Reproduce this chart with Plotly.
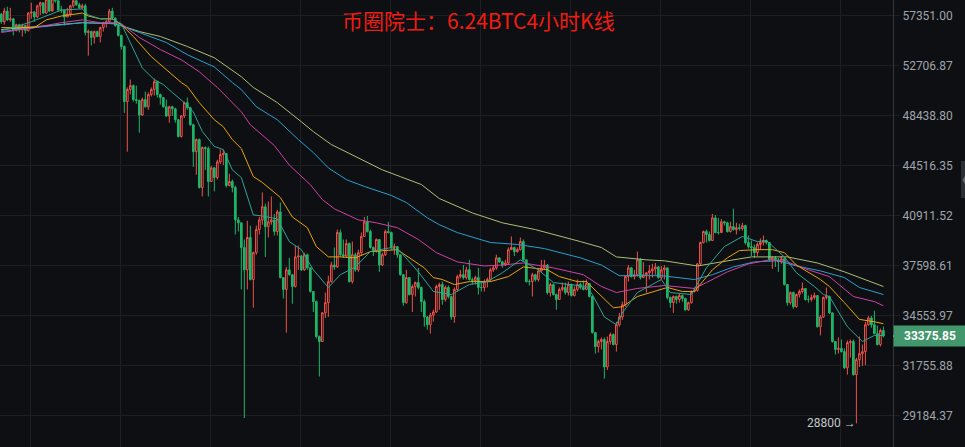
import math

import plotly.graph_objects as go

# BTC 4h candles (log price axis)
first_open = 57490

closes = [
    56750, 57780, 56930, 57030, 56010, 56470, 56010, 56380, 55910, 57590,
    57680, 57210, 58300, 58600, 57590, 58900, 57780, 59000, 58800, 57880,
    57880, 57210, 57490, 58300, 58800, 58400, 58100, 58300, 55730, 55820,
    55270, 55820, 55360, 56190, 56660, 56750, 57780, 57120, 56380, 55450,
    54430, 49590, 50610, 50950, 49760, 49680, 48480, 49760, 49160, 50190,
    50610, 51300, 50190, 49930, 49160, 48400, 49160, 48990, 48090, 46750,
    48400, 49500, 49080, 47690, 45570, 46510, 42890, 45890, 45810, 43330,
    44340, 43620, 44790, 45340, 45420, 43040, 43330, 42890, 40610, 40410,
    38760, 37325, 39420, 36720, 38425, 39950, 40610, 41520, 40150, 40480,
    40610, 39820, 41160, 36840, 36110, 37325, 37020, 36290, 38150, 38210,
    37325, 38290, 37450, 35985, 35375, 33350, 33070, 34710, 35315, 36590,
    37630, 37510, 39750, 38290, 38210, 39020, 36590, 38290, 37325, 38425,
    39490, 40480, 39820, 38760, 38490, 39290, 37630, 38290, 39820, 39750,
    38760, 38820, 38290, 37020, 35315, 36840, 35800, 36290, 36530, 36230,
    35375, 34470, 34020, 34580, 34760, 36290, 36410, 35500, 36230, 35680,
    34470, 36110, 36900, 37020, 36840, 37325, 36720, 36660, 36840, 36230,
    36230, 36590, 36720, 37325, 37450, 38090, 37830, 37630, 37760, 38620,
    38760, 38490, 38620, 39150, 37960, 36590, 36590, 37020, 36720, 37260,
    37450, 37630, 35920, 36410, 35800, 35500, 36110, 36230, 35920, 36410,
    35740, 36110, 36410, 36230, 36110, 36470, 35680, 33570, 32790, 33070,
    33180, 31680, 33070, 33460, 32900, 34020, 34470, 35190, 36900, 37450,
    36900, 37020, 37960, 36840, 37020, 37140, 37260, 37385, 37510, 36840,
    37325, 37450, 35620, 35315, 35680, 35500, 35740, 35560, 34890, 35315,
    35985, 36050, 37700, 39090, 39820, 39620, 39220, 40750, 39750, 39750,
    40480, 40410, 39820, 40150, 39950, 40080, 40020, 40220, 39090, 38820,
    38760, 38425, 38960, 39090, 39220, 39090, 37960, 38090, 37960, 37830,
    38030, 36410, 35315, 35920, 35070, 35800, 35985, 36170, 35500, 35500,
    35620, 35740, 33910, 34470, 35620, 35680, 34710, 33070, 32630, 32690,
    32510, 31630, 33010, 33070, 31270, 32070, 32400, 32510, 34020, 34410,
    34020, 33520, 32900, 33690, 33375.85,
]

highs = [
    57590, 58100, 58200, 58100, 57120, 56560, 56560, 56560, 56470, 57680,
    58600, 57780, 58400, 58700, 58600, 59390, 59390, 59390, 59190, 58900,
    58300, 57880, 58100, 58400, 58900, 58900, 58600, 58500, 58500, 56010,
    55910, 55910, 55910, 56280, 56750, 56930, 58000, 58100, 57120, 56470,
    55540, 54520, 50790, 51470, 51040, 50950, 49760, 49930, 50440, 50360,
    50790, 51560, 51300, 50270, 49930, 49760, 49250, 49250, 49080, 48170,
    48480, 49590, 49930, 49160, 47770, 46590, 46590, 45970, 45970, 45970,
    44480, 44410, 44950, 45730, 45730, 45420, 43900, 43470, 43040, 40810,
    40410, 39290, 40550, 40220, 38490, 40220, 40810, 42540, 41740, 41890,
    42250, 41020, 41310, 41820, 36840, 37510, 38090, 37020, 38890, 38890,
    38290, 38425, 38360, 37450, 35985, 35440, 33410, 34760, 35920, 36960,
    37830, 38760, 39950, 39950, 39290, 39290, 39090, 39150, 38425, 38620,
    39750, 40810, 40880, 39950, 38820, 39360, 39290, 38425, 39950, 40480,
    39820, 39020, 38760, 38290, 37020, 37325, 36840, 36410, 36590, 37450,
    36290, 35500, 34530, 34710, 34890, 36410, 36530, 36590, 36350, 36350,
    35740, 36230, 37020, 37325, 37630, 37510, 37960, 36840, 36960, 37450,
    36530, 36720, 36840, 37450, 37630, 38290, 38090, 37900, 37960, 38760,
    39490, 38820, 38760, 39420, 39290, 37960, 36720, 37140, 37080, 37450,
    37960, 37960, 37700, 36530, 36470, 35860, 36230, 36530, 36530, 36590,
    36470, 36290, 36720, 36530, 36660, 36720, 36470, 35740, 33570, 33180,
    33300, 33300, 33350, 33570, 33520, 34190, 34710, 35375, 36960, 37630,
    37510, 37325, 38490, 38090, 37830, 37200, 37630, 37700, 37760, 37570,
    37570, 37630, 37450, 35680, 35740, 35740, 35860, 35800, 35620, 35375,
    36050, 36230, 37760, 39150, 39880, 39950, 39820, 41020, 40950, 40750,
    40680, 40550, 40480, 40480, 41380, 40410, 40350, 40410, 40280, 39550,
    39220, 38960, 39090, 39360, 39550, 39290, 39090, 38210, 38210, 38090,
    38210, 38090, 36410, 35985, 35985, 35860, 36110, 36530, 36170, 35740,
    35800, 35920, 35740, 34580, 35680, 36230, 35740, 34710, 33070, 33300,
    33180, 32690, 33130, 33180, 33180, 32180, 33350, 32900, 34190, 34530,
    34530, 34830, 33970, 33800, 33910,
]

lows = [
    56560, 56470, 56840, 56750, 55450, 55820, 55730, 55360, 55640, 55820,
    57030, 56750, 57120, 57400, 57490, 57490, 57680, 58500, 58600, 57780,
    57590, 56380, 57210, 57210, 58100, 58300, 58000, 58000, 55450, 53590,
    54520, 54700, 55270, 54800, 55820, 56190, 56660, 56930, 56280, 55360,
    54150, 48650, 45570, 50190, 49590, 49420, 47060, 48400, 49080, 48910,
    50020, 50100, 49930, 49340, 49080, 48320, 47850, 48400, 47850, 46670,
    46670, 48240, 48910, 47610, 44410, 43830, 42820, 42250, 44190, 42250,
    43330, 42610, 43470, 44630, 44550, 42890, 42970, 42540, 39620, 39820,
    36110, 29060, 36110, 36660, 35010, 38290, 39620, 40280, 38150, 39420,
    40280, 39550, 39550, 36780, 35560, 33570, 36960, 35250, 36230, 37325,
    37260, 37260, 37325, 35920, 34760, 33240, 31170, 33070, 34410, 34470,
    36530, 37325, 37450, 38150, 38090, 38090, 36530, 36470, 37200, 37200,
    38210, 39490, 39750, 38690, 38210, 38425, 37200, 37570, 38210, 39690,
    38620, 38290, 38090, 36960, 35130, 35250, 35740, 34760, 35680, 36110,
    34760, 33910, 33740, 33520, 34190, 34710, 34890, 35190, 35375, 35560,
    34300, 34130, 35985, 36780, 36720, 36720, 36660, 36410, 36410, 35800,
    35985, 35985, 36230, 36590, 37200, 37325, 37760, 37450, 37570, 37630,
    38620, 38210, 38425, 38560, 37830, 36530, 36350, 35680, 36590, 36590,
    37200, 37325, 35800, 35680, 35740, 34890, 35500, 35985, 35800, 35740,
    35680, 35680, 35985, 36110, 36050, 36050, 35620, 33520, 32400, 32460,
    32630, 31060, 31520, 32900, 32850, 32510, 33910, 34300, 35070, 36590,
    36840, 36720, 36900, 36720, 36840, 35920, 36720, 36840, 37020, 36780,
    36720, 36720, 35500, 35010, 34710, 35250, 35315, 35375, 34830, 34830,
    35250, 35920, 35985, 37630, 39020, 39090, 39150, 39220, 39690, 39620,
    40350, 40220, 39750, 39750, 39880, 39620, 39880, 39880, 38960, 38690,
    38210, 38090, 38210, 38620, 38890, 38960, 37830, 37385, 37510, 37200,
    37700, 36350, 35130, 35190, 34950, 35010, 35620, 35860, 35440, 35315,
    35375, 35500, 33850, 33410, 34410, 35500, 34640, 33010, 32350, 32400,
    32460, 31580, 31270, 32180, 31220, 28800, 31680, 31730, 31780, 33970,
    33850, 33460, 32850, 32790, 33300,
]

# moving average lines, candle index and price
teal_x = [0, 5, 10, 17, 20, 27, 29, 33, 37, 40, 44, 47, 51, 54, 57, 61, 64, 67, 71, 74, 77, 80, 84, 87, 92, 96,
          100, 104, 109, 113, 118, 123, 130, 133, 139, 144, 150, 156, 162, 167, 173, 179, 184, 195, 197, 201,
          205, 207, 212, 218, 220, 223, 230, 235, 241, 247, 252, 255, 261, 265, 271, 274, 276, 282, 287, 291, 294]
teal_y = [55910, 56280, 56750, 57590, 57880, 58000, 57400, 57030, 57030, 56560, 54150, 52490, 51470, 51040,
          50360, 49500, 48740, 47150, 45970, 45730, 44190, 43620, 40950, 40880, 40680, 39150, 38620, 37325,
          36230, 37020, 37510, 38490, 38760, 38490, 37200, 35985, 35800, 36410, 36590, 37140, 37960, 37325,
          36530, 36290, 35800, 34470, 34020, 34710, 35920, 36530, 36720, 35920, 35800, 37450, 38820, 39490,
          39150, 39220, 38150, 37140, 36290, 35800, 35680, 33910, 33070, 33410, 33410]

orange_x = [0, 11, 15, 20, 27, 29, 33, 37, 40, 44, 50, 54, 60, 62, 66, 71, 74, 77, 80, 84, 87, 93, 97, 102, 105,
            109, 113, 118, 123, 132, 136, 141, 144, 147, 151, 156, 163, 169, 174, 182, 186, 192, 195, 200, 204,
            207, 212, 222, 227, 231, 237, 242, 246, 252, 257, 261, 265, 273, 276, 281, 286, 291, 294]
orange_y = [56190, 56190, 56930, 57300, 57590, 57300, 57030, 57030, 56470, 55360, 53500, 52580, 51210, 50870,
            49500, 48090, 47530, 46510, 45810, 43690, 43260, 42180, 40810, 40080, 38820, 38150, 38150, 38090,
            38490, 38620, 38090, 37450, 36840, 36720, 36410, 36590, 36590, 36900, 37510, 37325, 36900, 36590,
            36590, 35680, 35010, 35070, 35680, 36230, 35985, 35985, 37325, 38090, 38560, 38620, 38620, 38425,
            37630, 36720, 36290, 35315, 34330, 34190, 34080]

magenta_x = [0, 11, 20, 27, 33, 38, 40, 46, 53, 60, 66, 72, 76, 80, 83, 91, 96, 103, 107, 111, 119, 125, 132, 139,
             145, 152, 161, 167, 174, 184, 194, 200, 205, 212, 221, 231, 235, 242, 249, 256, 262, 269, 276, 284,
             291, 294]
magenta_y = [55730, 56190, 56660, 56930, 56660, 56660, 56560, 55270, 54150, 53220, 52150, 50790, 49760, 48740,
             47690, 46050, 44550, 43100, 42030, 41380, 40610, 40410, 40080, 39290, 38425, 37830, 37570, 37630,
             37760, 37450, 37020, 36290, 35920, 36170, 36350, 36170, 36530, 37200, 37700, 37960, 37830, 37325,
             36900, 35680, 35375, 35130]

blue_x = [0, 11, 27, 38, 46, 55, 62, 71, 77, 80, 85, 92, 99, 104, 109, 115, 121, 130, 135, 142, 146, 152, 163,
          172, 181, 193, 200, 206, 220, 231, 237, 244, 251, 259, 265, 273, 281, 286, 294]
blue_y = [55820, 56190, 56660, 56560, 55730, 54800, 53680, 52580, 51210, 50610, 49160, 48090, 46510, 45500,
          44340, 43470, 42970, 42320, 41820, 40750, 40280, 39750, 39090, 38960, 38690, 38090, 37630, 36960,
          36960, 36720, 37020, 37510, 37830, 37900, 37570, 37260, 36840, 36230, 35800]

lime_x = [0, 11, 27, 38, 46, 53, 62, 71, 77, 80, 84, 92, 100, 104, 110, 119, 127, 133, 140, 146, 157, 167, 178,
          193, 200, 205, 215, 221, 232, 240, 250, 262, 272, 281, 286, 294]
lime_y = [56010, 56280, 56660, 56560, 55820, 55360, 54430, 53400, 52320, 51720, 50790, 49500, 47930, 47140,
          46120, 45110, 44190, 43690, 43110, 42100, 41090, 40410, 39950, 39150, 38760, 38150, 37960, 37900,
          37570, 37830, 38150, 38150, 37760, 37200, 36840, 36290]

price_ticks = [57351.00, 52706.87, 48438.80, 44516.35, 40911.52, 37598.61, 34553.97, 31755.88, 29184.37]
tick_labels = ["57351.00", "52706.87", "48438.80", "44516.35", "40911.52",
               "37598.61", "34553.97", "31755.88", "29184.37"]
last_price = 33375.85
low_price = 28800

BG = "#0d0f12"
GRID = "#1d1f23"
RED = "#f0524a"
GREEN = "#1fb56a"

opens = [first_open] + closes[:-1]
idx = list(range(len(closes)))

fig = go.Figure()
fig.add_trace(go.Candlestick(
    x=idx, open=opens, high=highs, low=lows, close=closes,
    increasing=dict(line=dict(color=RED, width=1), fillcolor=BG),
    decreasing=dict(line=dict(color=GREEN, width=1), fillcolor=GREEN),
    whiskerwidth=0, hoverinfo="skip", showlegend=False,
))

for xs, ys, col in [(lime_x, lime_y, "#a9bf74"), (blue_x, blue_y, "#2b9fd0"),
                    (magenta_x, magenta_y, "#d040a4"), (orange_x, orange_y, "#e8a40c"),
                    (teal_x, teal_y, "#2ea593")]:
    fig.add_trace(go.Scatter(x=xs, y=ys, mode="lines", line=dict(color=col, width=1),
                             hoverinfo="skip", showlegend=False))

fig.update_layout(
    width=965, height=447,
    margin=dict(l=0, r=72, t=0, b=0),
    paper_bgcolor=BG, plot_bgcolor=BG,
    boxgap=0.2,
    font=dict(family="Roboto", size=12, color="#a0a4ab"),
    xaxis=dict(
        range=[-0.43, 297.2], rangeslider=dict(visible=False),
        tickvals=[9.6 + 30 * k for k in range(10)], showticklabels=False,
        showgrid=True, gridcolor=GRID, gridwidth=1, zeroline=False, ticks="",
    ),
    yaxis=dict(
        type="log", side="right", range=[4.44206, 4.76992],
        tickvals=price_ticks, ticktext=tick_labels,
        showgrid=True, gridcolor=GRID, gridwidth=1, zeroline=False,
        showline=True, linecolor="#33363b", linewidth=1,
        ticks="outside", ticklen=6, tickcolor=GRID, mirror=False,
        tickfont=dict(family="Roboto", size=12, color="#a0a4ab"),
    ),
)

# last price tag, title, low marker
fig.add_annotation(
    xref="paper", yref="y", x=1, y=math.log10(last_price), xanchor="left", yanchor="middle",
    text="<b>33375.85</b>", showarrow=False, width=70, height=18, align="center",
    bgcolor="#43976c", font=dict(family="Roboto", size=12, color="#ffffff"),
)
fig.add_shape(type="line", xref="paper", yref="y", x0=1, x1=1.0067, y0=last_price, y1=last_price,
              line=dict(color="#ffffff", width=1), layer="above")
fig.add_annotation(
    xref="paper", yref="paper", x=479 / 893, y=1 - 20 / 447, xanchor="center", yanchor="middle",
    text="币圈院士：6.24BTC4小时K线", showarrow=False,
    font=dict(family="Noto Sans CJK SC", size=21, color="#f01c14"),
)
fig.add_annotation(
    xref="x", yref="y", x=285, y=math.log10(low_price), xanchor="right", yanchor="middle", xshift=2,
    text="28800 →", showarrow=False, font=dict(family="Roboto", size=12, color="#c4c6ca"),
)
# scale handle on the right edge
fig.add_shape(type="rect", xref="paper", yref="paper", x0=961 / 893, x1=965 / 893,
              y0=1 - 198 / 447, y1=1 - 161 / 447, fillcolor="#2b2e33", line=dict(width=0), layer="above")
fig.add_shape(type="path", xref="paper", yref="paper",
              path=f"M {965 / 893} {1 - 176 / 447} L {962.5 / 893} {1 - 180 / 447} L {965 / 893} {1 - 184 / 447} Z",
              fillcolor="#6a6d73", line=dict(width=0), layer="above")

fig.write_html("out.html", config=dict(displayModeBar=False), post_script="document.body.style.margin='0';")
